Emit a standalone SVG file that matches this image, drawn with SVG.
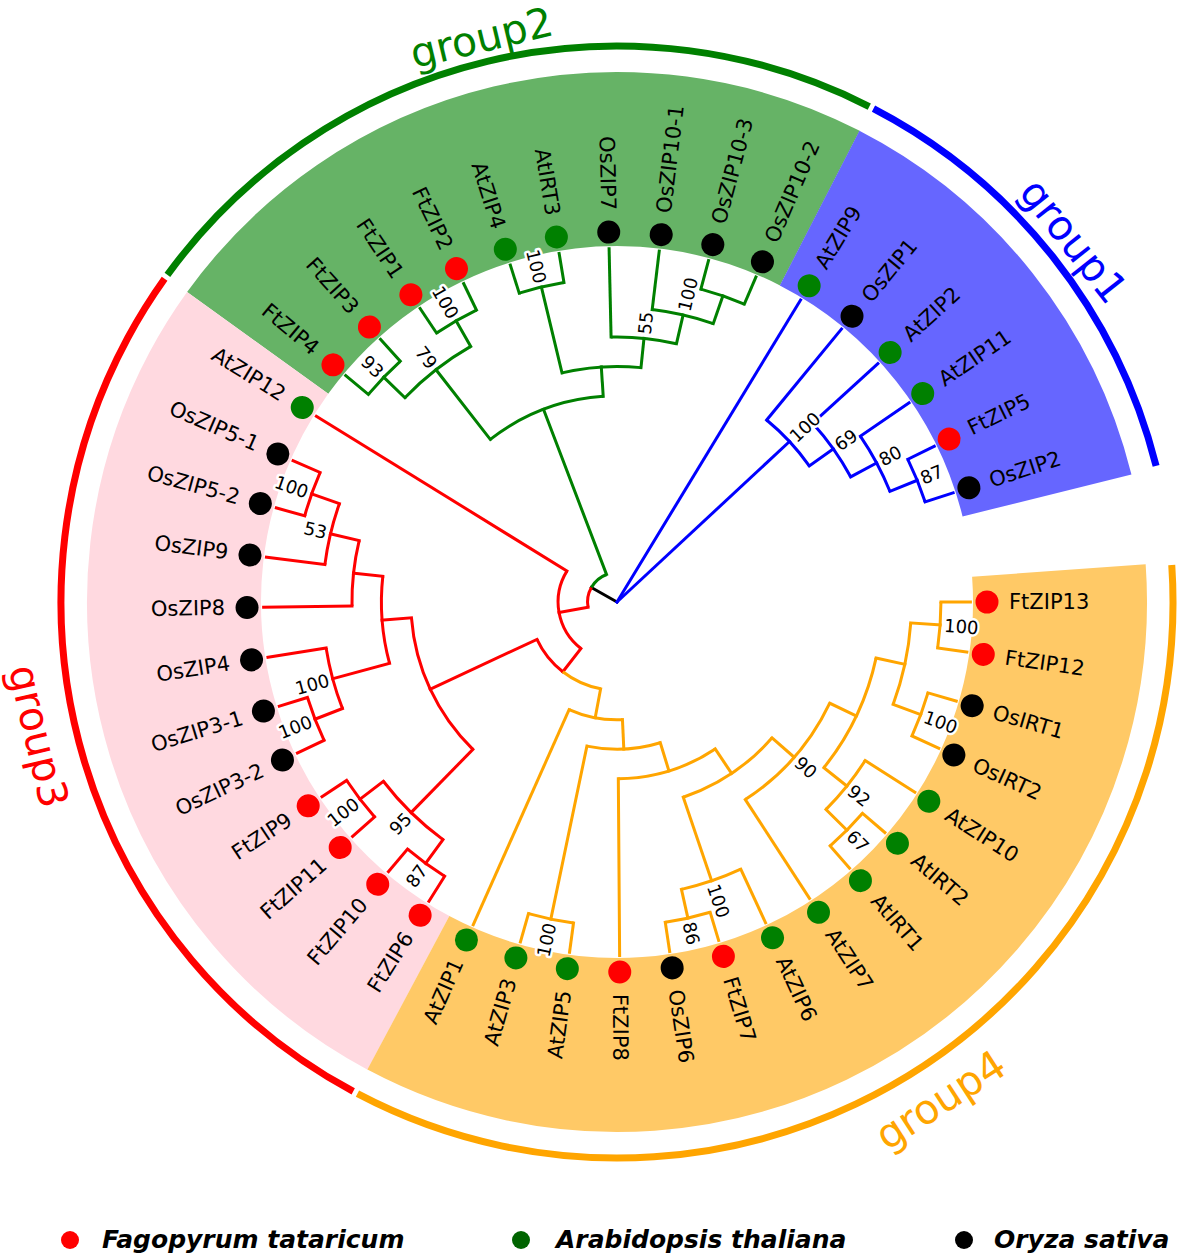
<svg xmlns="http://www.w3.org/2000/svg" width="1181" height="1260" viewBox="0 0 1181 1260">
<style>
.br{fill:none;stroke-width:3;stroke-linecap:square}
.arc{fill:none;stroke-width:3}
.b{stroke:#0000FF}.g{stroke:#008000}.r{stroke:#FF0000}.o{stroke:#FFA500}.k{stroke:#000000}
.tip{font-family:"DejaVu Sans",sans-serif;font-size:21px;dominant-baseline:central;fill:#000}
.bs{font-family:"DejaVu Sans",sans-serif;font-size:18px;dominant-baseline:central;fill:#000;stroke:#fff;stroke-width:5;paint-order:stroke;stroke-linejoin:round}
.dF{fill:#FF0000}.dA{fill:#008000}.dO{fill:#000000}
.sec{fill:none;stroke-width:174}
.oa{fill:none;stroke-width:7}
.grp{font-family:"DejaVu Sans",sans-serif;font-size:41px;text-anchor:middle;dominant-baseline:central}
.leg{font-family:"DejaVu Sans",sans-serif;font-size:25px;font-weight:bold;font-style:italic;fill:#000}
</style>
<rect width="1181" height="1260" fill="#fff"/>
<g transform="translate(617,602)">
<g id="sectors">
<circle class="sec" r="443" stroke="#66B366" stroke-dasharray="629.6 3000" transform="rotate(-144.2105)"/>
<circle class="sec" r="443" stroke="#6666FF" stroke-dasharray="377.76 3000" transform="rotate(-62.7805)"/>
<circle class="sec" r="443" stroke="#FFD9E0" stroke-dasharray="755.52 3000" transform="rotate(-241.9265)"/>
<circle class="sec" r="443" stroke="#FFC966" stroke-dasharray="944.4 3000" transform="rotate(-4.0715)"/>
</g>
<g id="group-arcs">
<circle class="oa" r="556" stroke="#008000" stroke-dasharray="785.35 4000" transform="rotate(-143.96)"/>
<circle class="oa" r="556" stroke="#0000FF" stroke-dasharray="469.29 4000" transform="rotate(-62.53)"/>
<circle class="oa" r="556" stroke="#FF0000" stroke-dasharray="943.42 4000" transform="rotate(-241.68)"/>
<circle class="oa" r="556" stroke="#FFA500" stroke-dasharray="1180.39 4000" transform="rotate(-3.82)"/>
</g>
<g id="connectors">
<line class="br k" x1="0" x2="29.45" transform="rotate(-150.553)"/>
<!-- blue -->
<line class="br b" x1="0" x2="353.4" transform="rotate(-58.709)"/>
<line class="br b" x1="0" x2="235.6" transform="rotate(-42.932)"/>
<line class="br b" x1="235.6" x2="353.4" transform="rotate(-50.566)"/>
<line class="br b" x1="235.6" x2="265.05" transform="rotate(-35.298)"/>
<line class="br b" x1="265.05" x2="353.4" transform="rotate(-42.423)"/>
<line class="br b" x1="265.05" x2="294.5" transform="rotate(-28.173)"/>
<line class="br b" x1="294.5" x2="353.4" transform="rotate(-34.28)"/>
<line class="br b" x1="294.5" x2="323.95" transform="rotate(-22.066)"/>
<line class="br b" x1="323.95" x2="353.4" transform="rotate(-26.137)"/>
<line class="br b" x1="323.95" x2="353.4" transform="rotate(-17.994)"/>
<circle class="arc b" r="323.95" stroke-dasharray="46.04 3000" transform="rotate(-26.137)"/>
<circle class="arc b" r="294.5" stroke-dasharray="62.78 3000" transform="rotate(-34.28)"/>
<circle class="arc b" r="265.05" stroke-dasharray="65.92 3000" transform="rotate(-42.423)"/>
<circle class="arc b" r="235.6" stroke-dasharray="62.78 3000" transform="rotate(-50.566)"/>
<!-- green -->
<line class="br g" x1="29.45" x2="206.15" transform="rotate(-110.876)"/>
<line class="br g" x1="206.15" x2="294.5" transform="rotate(-127.925)"/>
<line class="br g" x1="206.15" x2="235.6" transform="rotate(-93.826)"/>
<line class="br g" x1="294.5" x2="323.95" transform="rotate(-136.068)"/>
<line class="br g" x1="294.5" x2="323.95" transform="rotate(-119.782)"/>
<line class="br g" x1="323.95" x2="353.4" transform="rotate(-140.139)"/>
<line class="br g" x1="323.95" x2="353.4" transform="rotate(-131.996)"/>
<line class="br g" x1="323.95" x2="353.4" transform="rotate(-123.853)"/>
<line class="br g" x1="323.95" x2="353.4" transform="rotate(-115.71)"/>
<line class="br g" x1="235.6" x2="323.95" transform="rotate(-103.496)"/>
<line class="br g" x1="235.6" x2="265.05" transform="rotate(-84.156)"/>
<line class="br g" x1="323.95" x2="353.4" transform="rotate(-107.567)"/>
<line class="br g" x1="323.95" x2="353.4" transform="rotate(-99.424)"/>
<line class="br g" x1="265.05" x2="353.4" transform="rotate(-91.281)"/>
<line class="br g" x1="265.05" x2="294.5" transform="rotate(-77.031)"/>
<line class="br g" x1="294.5" x2="353.4" transform="rotate(-83.138)"/>
<line class="br g" x1="294.5" x2="323.95" transform="rotate(-70.924)"/>
<line class="br g" x1="323.95" x2="353.4" transform="rotate(-74.995)"/>
<line class="br g" x1="323.95" x2="353.4" transform="rotate(-66.852)"/>
<circle class="arc g" r="323.95" stroke-dasharray="46.04 3000" transform="rotate(-140.139)"/>
<circle class="arc g" r="323.95" stroke-dasharray="46.04 3000" transform="rotate(-123.853)"/>
<circle class="arc g" r="294.5" stroke-dasharray="83.71 3000" transform="rotate(-136.068)"/>
<circle class="arc g" r="323.95" stroke-dasharray="46.04 3000" transform="rotate(-107.567)"/>
<circle class="arc g" r="323.95" stroke-dasharray="46.04 3000" transform="rotate(-74.995)"/>
<circle class="arc g" r="294.5" stroke-dasharray="62.78 3000" transform="rotate(-83.138)"/>
<circle class="arc g" r="265.05" stroke-dasharray="65.92 3000" transform="rotate(-91.281)"/>
<circle class="arc g" r="235.6" stroke-dasharray="79.53 3000" transform="rotate(-103.496)"/>
<circle class="arc g" r="206.15" stroke-dasharray="122.69 3000" transform="rotate(-127.925)"/>
<circle class="arc g" r="29.45" stroke-dasharray="20.39 3000" transform="rotate(-150.553)"/>
<!-- red -->
<circle class="arc r" r="29.45" stroke-dasharray="20.39 3000" transform="rotate(-190.23)"/>
<line class="br r" x1="29.45" x2="58.9" transform="rotate(-190.23)"/>
<line class="br r" x1="58.9" x2="353.4" transform="rotate(-148.282)"/>
<line class="br r" x1="58.9" x2="88.35" transform="rotate(-232.178)"/>
<line class="br r" x1="88.35" x2="206.15" transform="rotate(-205.029)"/>
<line class="br r" x1="206.15" x2="235.6" transform="rotate(-184.417)"/>
<line class="br r" x1="206.15" x2="294.5" transform="rotate(-225.641)"/>
<line class="br r" x1="235.6" x2="265.05" transform="rotate(-173.729)"/>
<line class="br r" x1="235.6" x2="294.5" transform="rotate(-195.105)"/>
<line class="br r" x1="265.05" x2="294.5" transform="rotate(-166.604)"/>
<line class="br r" x1="265.05" x2="353.4" transform="rotate(-180.854)"/>
<line class="br r" x1="294.5" x2="323.95" transform="rotate(-160.497)"/>
<line class="br r" x1="294.5" x2="353.4" transform="rotate(-172.711)"/>
<line class="br r" x1="323.95" x2="353.4" transform="rotate(-156.425)"/>
<line class="br r" x1="323.95" x2="353.4" transform="rotate(-164.568)"/>
<line class="br r" x1="294.5" x2="353.4" transform="rotate(-188.997)"/>
<line class="br r" x1="294.5" x2="323.95" transform="rotate(-201.212)"/>
<line class="br r" x1="323.95" x2="353.4" transform="rotate(-197.14)"/>
<line class="br r" x1="323.95" x2="353.4" transform="rotate(-205.283)"/>
<line class="br r" x1="294.5" x2="323.95" transform="rotate(-217.498)"/>
<line class="br r" x1="294.5" x2="323.95" transform="rotate(-233.784)"/>
<line class="br r" x1="323.95" x2="353.4" transform="rotate(-213.426)"/>
<line class="br r" x1="323.95" x2="353.4" transform="rotate(-221.569)"/>
<line class="br r" x1="323.95" x2="353.4" transform="rotate(-229.712)"/>
<line class="br r" x1="323.95" x2="353.4" transform="rotate(-237.855)"/>
<circle class="arc r" r="58.9" stroke-dasharray="86.25 3000" transform="rotate(-232.178)"/>
<circle class="arc r" r="88.35" stroke-dasharray="41.86 3000" transform="rotate(-232.178)"/>
<circle class="arc r" r="206.15" stroke-dasharray="148.32 3000" transform="rotate(-225.641)"/>
<circle class="arc r" r="235.6" stroke-dasharray="87.9 3000" transform="rotate(-195.105)"/>
<circle class="arc r" r="265.05" stroke-dasharray="65.92 3000" transform="rotate(-180.854)"/>
<circle class="arc r" r="294.5" stroke-dasharray="62.78 3000" transform="rotate(-172.711)"/>
<circle class="arc r" r="323.95" stroke-dasharray="46.04 3000" transform="rotate(-164.568)"/>
<circle class="arc r" r="294.5" stroke-dasharray="62.79 3000" transform="rotate(-201.212)"/>
<circle class="arc r" r="323.95" stroke-dasharray="46.04 3000" transform="rotate(-205.283)"/>
<circle class="arc r" r="294.5" stroke-dasharray="83.71 3000" transform="rotate(-233.784)"/>
<circle class="arc r" r="323.95" stroke-dasharray="46.04 3000" transform="rotate(-221.569)"/>
<circle class="arc r" r="323.95" stroke-dasharray="46.04 3000" transform="rotate(-237.855)"/>
<!-- orange -->
<circle class="arc o" r="88.35" stroke-dasharray="41.86 3000" transform="rotate(-259.326)"/>
<line class="br o" x1="88.35" x2="117.8" transform="rotate(-259.326)"/>
<line class="br o" x1="117.8" x2="353.4" transform="rotate(-245.998)"/>
<line class="br o" x1="117.8" x2="147.25" transform="rotate(-272.654)"/>
<line class="br o" x1="147.25" x2="323.95" transform="rotate(-258.213)"/>
<line class="br o" x1="147.25" x2="176.7" transform="rotate(-287.095)"/>
<line class="br o" x1="323.95" x2="353.4" transform="rotate(-254.141)"/>
<line class="br o" x1="323.95" x2="353.4" transform="rotate(-262.284)"/>
<line class="br o" x1="176.7" x2="353.4" transform="rotate(-270.427)"/>
<line class="br o" x1="176.7" x2="206.15" transform="rotate(-303.763)"/>
<line class="br o" x1="206.15" x2="294.5" transform="rotate(-288.749)"/>
<line class="br o" x1="206.15" x2="235.6" transform="rotate(-318.777)"/>
<line class="br o" x1="294.5" x2="323.95" transform="rotate(-282.642)"/>
<line class="br o" x1="294.5" x2="353.4" transform="rotate(-294.856)"/>
<line class="br o" x1="323.95" x2="353.4" transform="rotate(-278.57)"/>
<line class="br o" x1="323.95" x2="353.4" transform="rotate(-286.713)"/>
<line class="br o" x1="235.6" x2="353.4" transform="rotate(-302.999)"/>
<line class="br o" x1="235.6" x2="265.05" transform="rotate(-334.554)"/>
<line class="br o" x1="265.05" x2="294.5" transform="rotate(-321.321)"/>
<line class="br o" x1="265.05" x2="294.5" transform="rotate(-347.786)"/>
<line class="br o" x1="294.5" x2="323.95" transform="rotate(-315.214)"/>
<line class="br o" x1="294.5" x2="353.4" transform="rotate(-327.428)"/>
<line class="br o" x1="323.95" x2="353.4" transform="rotate(-319.285)"/>
<line class="br o" x1="323.95" x2="353.4" transform="rotate(-311.142)"/>
<line class="br o" x1="294.5" x2="323.95" transform="rotate(-339.643)"/>
<line class="br o" x1="294.5" x2="323.95" transform="rotate(-355.929)"/>
<line class="br o" x1="323.95" x2="353.4" transform="rotate(-343.714)"/>
<line class="br o" x1="323.95" x2="353.4" transform="rotate(-335.571)"/>
<line class="br o" x1="323.95" x2="353.4" transform="rotate(0)"/>
<line class="br o" x1="323.95" x2="353.4" transform="rotate(-351.857)"/>
<circle class="arc o" r="117.8" stroke-dasharray="54.8 3000" transform="rotate(-272.654)"/>
<circle class="arc o" r="147.25" stroke-dasharray="74.23 3000" transform="rotate(-287.095)"/>
<circle class="arc o" r="323.95" stroke-dasharray="46.04 3000" transform="rotate(-262.284)"/>
<circle class="arc o" r="176.7" stroke-dasharray="102.81 3000" transform="rotate(-303.763)"/>
<circle class="arc o" r="206.15" stroke-dasharray="108.04 3000" transform="rotate(-318.777)"/>
<circle class="arc o" r="294.5" stroke-dasharray="62.78 3000" transform="rotate(-294.856)"/>
<circle class="arc o" r="323.95" stroke-dasharray="46.04 3000" transform="rotate(-286.713)"/>
<circle class="arc o" r="235.6" stroke-dasharray="129.75 3000" transform="rotate(-334.554)"/>
<circle class="arc o" r="265.05" stroke-dasharray="122.43 3000" transform="rotate(-347.786)"/>
<circle class="arc o" r="294.5" stroke-dasharray="62.78 3000" transform="rotate(-327.428)"/>
<circle class="arc o" r="323.95" stroke-dasharray="46.04 3000" transform="rotate(-319.285)"/>
<circle class="arc o" r="294.5" stroke-dasharray="83.71 3000" transform="rotate(-355.929)"/>
<circle class="arc o" r="323.95" stroke-dasharray="46.04 3000" transform="rotate(-343.714)"/>
<circle class="arc o" r="323.95" stroke-dasharray="46.04 3000" transform="rotate(0)"/>
</g>
<g id="support-labels">
<text class="bs" x="239.6" transform="rotate(-42.932)">100</text>
<text class="bs" x="269" transform="rotate(-35.298)">69</text>
<text class="bs" x="298.5" transform="rotate(-28.173)">80</text>
<text class="bs" x="328" transform="rotate(-22.066)">87</text>
<text class="bs" x="-328" text-anchor="end" transform="rotate(43.932)">93</text>
<text class="bs" x="-328" text-anchor="end" transform="rotate(60.218)">100</text>
<text class="bs" x="-298.5" text-anchor="end" transform="rotate(52.075)">79</text>
<text class="bs" x="-328" text-anchor="end" transform="rotate(76.504)">100</text>
<text class="bs" x="298.5" transform="rotate(-77.031)">100</text>
<text class="bs" x="269" transform="rotate(-84.156)">55</text>
<text class="bs" x="-328" text-anchor="end" transform="rotate(19.503)">100</text>
<text class="bs" x="-298.5" text-anchor="end" transform="rotate(13.396)">53</text>
<text class="bs" x="-298.5" text-anchor="end" transform="rotate(-15.105)">100</text>
<text class="bs" x="-328" text-anchor="end" transform="rotate(-21.212)">100</text>
<text class="bs" x="-328" text-anchor="end" transform="rotate(-37.498)">100</text>
<text class="bs" x="-298.5" text-anchor="end" transform="rotate(-45.641)">95</text>
<text class="bs" x="-328" text-anchor="end" transform="rotate(-53.784)">87</text>
<text class="bs" x="-328" text-anchor="end" transform="rotate(-78.213)">100</text>
<text class="bs" x="328" transform="rotate(-282.642)">86</text>
<text class="bs" x="298.5" transform="rotate(-288.749)">100</text>
<text class="bs" x="239.6" transform="rotate(-318.777)">90</text>
<text class="bs" x="298.5" transform="rotate(-321.321)">92</text>
<text class="bs" x="328" transform="rotate(-315.214)">67</text>
<text class="bs" x="328" transform="rotate(-339.643)">100</text>
<text class="bs" x="328" transform="rotate(-355.929)">100</text>
</g>
<g id="tips">
<g id="tip-AtZIP9" transform="rotate(-58.709)"><circle class="dA" cx="370" r="11.5"/><text class="tip" x="392">AtZIP9</text></g>
<g id="tip-OsZIP1" transform="rotate(-50.566)"><circle class="dO" cx="370" r="11.5"/><text class="tip" x="392">OsZIP1</text></g>
<g id="tip-AtZIP2" transform="rotate(-42.423)"><circle class="dA" cx="370" r="11.5"/><text class="tip" x="392">AtZIP2</text></g>
<g id="tip-AtZIP11" transform="rotate(-34.28)"><circle class="dA" cx="370" r="11.5"/><text class="tip" x="392">AtZIP11</text></g>
<g id="tip-FtZIP5" transform="rotate(-26.137)"><circle class="dF" cx="370" r="11.5"/><text class="tip" x="392">FtZIP5</text></g>
<g id="tip-OsZIP2" transform="rotate(-17.994)"><circle class="dO" cx="370" r="11.5"/><text class="tip" x="392">OsZIP2</text></g>
<g id="tip-FtZIP4" transform="rotate(-140.139)"><circle class="dF" cx="370" r="11.5"/><text class="tip" x="-392" text-anchor="end" transform="rotate(180)">FtZIP4</text></g>
<g id="tip-FtZIP3" transform="rotate(-131.996)"><circle class="dF" cx="370" r="11.5"/><text class="tip" x="-392" text-anchor="end" transform="rotate(180)">FtZIP3</text></g>
<g id="tip-FtZIP1" transform="rotate(-123.853)"><circle class="dF" cx="370" r="11.5"/><text class="tip" x="-392" text-anchor="end" transform="rotate(180)">FtZIP1</text></g>
<g id="tip-FtZIP2" transform="rotate(-115.71)"><circle class="dF" cx="370" r="11.5"/><text class="tip" x="-392" text-anchor="end" transform="rotate(180)">FtZIP2</text></g>
<g id="tip-AtZIP4" transform="rotate(-107.567)"><circle class="dA" cx="370" r="11.5"/><text class="tip" x="-392" text-anchor="end" transform="rotate(180)">AtZIP4</text></g>
<g id="tip-AtIRT3" transform="rotate(-99.424)"><circle class="dA" cx="370" r="11.5"/><text class="tip" x="-392" text-anchor="end" transform="rotate(180)">AtIRT3</text></g>
<g id="tip-OsZIP7" transform="rotate(-91.281)"><circle class="dO" cx="370" r="11.5"/><text class="tip" x="-392" text-anchor="end" transform="rotate(180)">OsZIP7</text></g>
<g id="tip-OsZIP10-1" transform="rotate(-83.138)"><circle class="dO" cx="370" r="11.5"/><text class="tip" x="392">OsZIP10-1</text></g>
<g id="tip-OsZIP10-3" transform="rotate(-74.995)"><circle class="dO" cx="370" r="11.5"/><text class="tip" x="392">OsZIP10-3</text></g>
<g id="tip-OsZIP10-2" transform="rotate(-66.852)"><circle class="dO" cx="370" r="11.5"/><text class="tip" x="392">OsZIP10-2</text></g>
<g id="tip-AtZIP12" transform="rotate(-148.282)"><circle class="dA" cx="370" r="11.5"/><text class="tip" x="-392" text-anchor="end" transform="rotate(180)">AtZIP12</text></g>
<g id="tip-OsZIP5-1" transform="rotate(-156.425)"><circle class="dO" cx="370" r="11.5"/><text class="tip" x="-392" text-anchor="end" transform="rotate(180)">OsZIP5-1</text></g>
<g id="tip-OsZIP5-2" transform="rotate(-164.568)"><circle class="dO" cx="370" r="11.5"/><text class="tip" x="-392" text-anchor="end" transform="rotate(180)">OsZIP5-2</text></g>
<g id="tip-OsZIP9" transform="rotate(-172.711)"><circle class="dO" cx="370" r="11.5"/><text class="tip" x="-392" text-anchor="end" transform="rotate(180)">OsZIP9</text></g>
<g id="tip-OsZIP8" transform="rotate(-180.854)"><circle class="dO" cx="370" r="11.5"/><text class="tip" x="-392" text-anchor="end" transform="rotate(180)">OsZIP8</text></g>
<g id="tip-OsZIP4" transform="rotate(-188.997)"><circle class="dO" cx="370" r="11.5"/><text class="tip" x="-392" text-anchor="end" transform="rotate(180)">OsZIP4</text></g>
<g id="tip-OsZIP3-1" transform="rotate(-197.14)"><circle class="dO" cx="370" r="11.5"/><text class="tip" x="-392" text-anchor="end" transform="rotate(180)">OsZIP3-1</text></g>
<g id="tip-OsZIP3-2" transform="rotate(-205.283)"><circle class="dO" cx="370" r="11.5"/><text class="tip" x="-392" text-anchor="end" transform="rotate(180)">OsZIP3-2</text></g>
<g id="tip-FtZIP9" transform="rotate(-213.426)"><circle class="dF" cx="370" r="11.5"/><text class="tip" x="-392" text-anchor="end" transform="rotate(180)">FtZIP9</text></g>
<g id="tip-FtZIP11" transform="rotate(-221.569)"><circle class="dF" cx="370" r="11.5"/><text class="tip" x="-392" text-anchor="end" transform="rotate(180)">FtZIP11</text></g>
<g id="tip-FtZIP10" transform="rotate(-229.712)"><circle class="dF" cx="370" r="11.5"/><text class="tip" x="-392" text-anchor="end" transform="rotate(180)">FtZIP10</text></g>
<g id="tip-FtZIP6" transform="rotate(-237.855)"><circle class="dF" cx="370" r="11.5"/><text class="tip" x="-392" text-anchor="end" transform="rotate(180)">FtZIP6</text></g>
<g id="tip-AtZIP1" transform="rotate(-245.998)"><circle class="dA" cx="370" r="11.5"/><text class="tip" x="-392" text-anchor="end" transform="rotate(180)">AtZIP1</text></g>
<g id="tip-AtZIP3" transform="rotate(-254.141)"><circle class="dA" cx="370" r="11.5"/><text class="tip" x="-392" text-anchor="end" transform="rotate(180)">AtZIP3</text></g>
<g id="tip-AtZIP5" transform="rotate(-262.284)"><circle class="dA" cx="370" r="11.5"/><text class="tip" x="-392" text-anchor="end" transform="rotate(180)">AtZIP5</text></g>
<g id="tip-FtZIP8" transform="rotate(-270.427)"><circle class="dF" cx="370" r="11.5"/><text class="tip" x="392">FtZIP8</text></g>
<g id="tip-OsZIP6" transform="rotate(-278.57)"><circle class="dO" cx="370" r="11.5"/><text class="tip" x="392">OsZIP6</text></g>
<g id="tip-FtZIP7" transform="rotate(-286.713)"><circle class="dF" cx="370" r="11.5"/><text class="tip" x="392">FtZIP7</text></g>
<g id="tip-AtZIP6" transform="rotate(-294.856)"><circle class="dA" cx="370" r="11.5"/><text class="tip" x="392">AtZIP6</text></g>
<g id="tip-AtZIP7" transform="rotate(-302.999)"><circle class="dA" cx="370" r="11.5"/><text class="tip" x="392">AtZIP7</text></g>
<g id="tip-AtIRT1" transform="rotate(-311.142)"><circle class="dA" cx="370" r="11.5"/><text class="tip" x="392">AtIRT1</text></g>
<g id="tip-AtIRT2" transform="rotate(-319.285)"><circle class="dA" cx="370" r="11.5"/><text class="tip" x="392">AtIRT2</text></g>
<g id="tip-AtZIP10" transform="rotate(-327.428)"><circle class="dA" cx="370" r="11.5"/><text class="tip" x="392">AtZIP10</text></g>
<g id="tip-OsIRT2" transform="rotate(-335.571)"><circle class="dO" cx="370" r="11.5"/><text class="tip" x="392">OsIRT2</text></g>
<g id="tip-OsIRT1" transform="rotate(-343.714)"><circle class="dO" cx="370" r="11.5"/><text class="tip" x="392">OsIRT1</text></g>
<g id="tip-FtZIP12" transform="rotate(-351.857)"><circle class="dF" cx="370" r="11.5"/><text class="tip" x="392">FtZIP12</text></g>
<g id="tip-FtZIP13" transform="rotate(0)"><circle class="dF" cx="370" r="11.5"/><text class="tip" x="392">FtZIP13</text></g>
</g>
<g id="group-labels">
<text class="grp" fill="#0000FF" transform="rotate(-38.35) translate(582,0) rotate(90)">group1</text>
<text class="grp" fill="#008000" transform="rotate(-103.5) translate(580,0) rotate(90)">group2</text>
<text class="grp" fill="#FF0000" transform="rotate(-193.07) translate(594,0) rotate(-90)">group3</text>
<text class="grp" fill="#FFA500" transform="rotate(-303) translate(594,0) rotate(-90)">group4</text>
</g>
</g>
<g id="legend">
<circle cx="70" cy="1240" r="9" fill="#FF0000"/>
<text class="leg" x="102" y="1248">Fagopyrum tataricum</text>
<circle cx="521" cy="1240" r="9" fill="#006400"/>
<text class="leg" x="556" y="1248">Arabidopsis thaliana</text>
<circle cx="964" cy="1240" r="9" fill="#000000"/>
<text class="leg" x="994" y="1248">Oryza sativa</text>
</g>
</svg>
